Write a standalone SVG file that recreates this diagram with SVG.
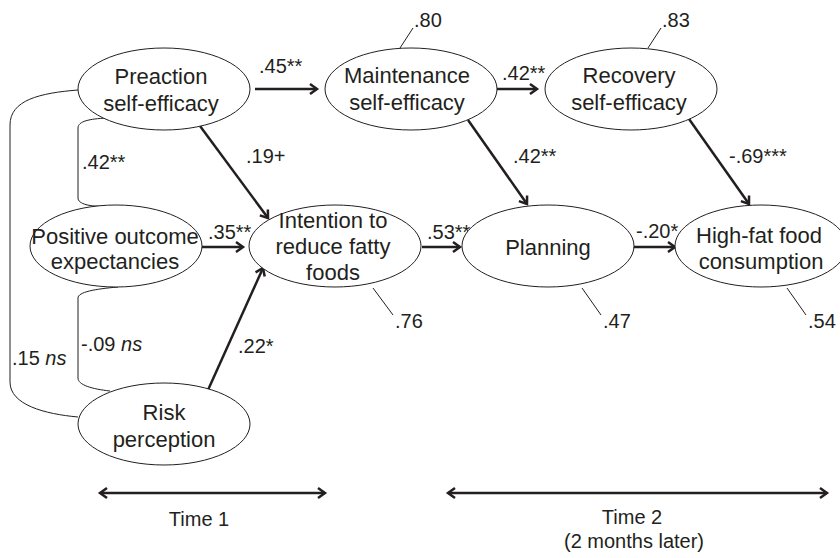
<svg xmlns="http://www.w3.org/2000/svg" width="840" height="558" viewBox="0 0 840 558">
<style>
text{font-family:"Liberation Sans",Arial,Helvetica,sans-serif;fill:#231f20}
.n{font-size:22px;text-anchor:middle}
.l{font-size:20px}
.e{fill:#fff;stroke:#231f20;stroke-width:1}
.a{fill:none;stroke:#231f20;stroke-width:2.5;marker-end:url(#ah)}
.t{fill:none;stroke:#231f20;stroke-width:2.5;marker-end:url(#ah);marker-start:url(#as)}
.c{fill:none;stroke:#231f20;stroke-width:1}
</style>
<defs>
<marker id="ah" markerUnits="userSpaceOnUse" markerWidth="14" markerHeight="14" refX="11" refY="7" orient="auto" viewBox="0 0 14 14">
<path d="M4,2 L11,7 L4,12" fill="none" stroke="#231f20" stroke-width="2.5"/>
</marker>
<marker id="as" markerUnits="userSpaceOnUse" markerWidth="14" markerHeight="14" refX="3" refY="7" orient="auto" viewBox="0 0 14 14">
<path d="M10,2 L3,7 L10,12" fill="none" stroke="#231f20" stroke-width="2.5"/>
</marker>
</defs>
<rect width="840" height="558" fill="#fff"/>

<g id="connectors">
<path class="a" d="M255,89 L317,89"/>
<path class="a" d="M497,89 L537,89"/>
<path class="a" d="M200,126 L268,218"/>
<path class="a" d="M468,120 L527,204"/>
<path class="a" d="M689,119 L749,204"/>
<path class="a" d="M202,247 L243,247"/>
<path class="a" d="M422,247 L460,247"/>
<path class="a" d="M633,247 L675,247"/>
<path class="a" d="M208,390 L263,268"/>
<path class="c" d="M78,90 C40,93 10,100 10,125 L10,382 C10,405 45,414 78,417"/>
<path class="c" d="M106,118 C90,119 78,121 78,128 L78,198 C78,204 90,207 106,206"/>
<path class="c" d="M118,287 C95,289 78,292 78,298 L78,378 C78,385 92,389 110,391"/>
<path class="c" d="M400,48 L413,28"/>
<path class="c" d="M648,48 L661,28"/>
<path class="c" d="M373,288 L393,315"/>
<path class="c" d="M582,288 L601,315"/>
<path class="c" d="M787,288 L806,315"/>
<path class="t" d="M100,493 L325,493"/>
<path class="t" d="M448,493 L827,493"/>
</g>

<g id="labels">
<text class="l" x="259" y="73">.45**</text>
<text class="l" x="502" y="80">.42**</text>
<text class="l" x="246" y="163">.19+</text>
<text class="l" x="513" y="163">.42**</text>
<text class="l" x="729" y="163">-.69***</text>
<text class="l" x="208" y="239">.35**</text>
<text class="l" x="427" y="239">.53**</text>
<text class="l" x="636" y="238">-.20*</text>
<text class="l" x="238" y="353">.22*</text>
<text class="l" x="82" y="169">.42**</text>
<text class="l" x="81" y="351">-.09 <tspan font-style="italic">ns</tspan></text>
<text class="l" x="12" y="365">.15 <tspan font-style="italic">ns</tspan></text>
<text class="l" x="414" y="27">.80</text>
<text class="l" x="662" y="27">.83</text>
<text class="l" x="395" y="328">.76</text>
<text class="l" x="603" y="328">.47</text>
<text class="l" x="808" y="328">.54</text>
<text class="l" x="199" y="526" text-anchor="middle">Time 1</text>
<text class="l" x="632" y="524" text-anchor="middle">Time 2</text>
<text class="l" x="634" y="548" text-anchor="middle">(2 months later)</text>
</g>

<g id="preaction">
<ellipse class="e" cx="164" cy="89" rx="86" ry="41"/>
<text class="n" x="161" y="84">Preaction</text>
<text class="n" x="161" y="111">self-efficacy</text>
</g>
<g id="maintenance">
<ellipse class="e" cx="411" cy="89" rx="86" ry="41"/>
<text class="n" x="407" y="83">Maintenance</text>
<text class="n" x="407" y="110">self-efficacy</text>
</g>
<g id="recovery">
<ellipse class="e" cx="631" cy="89" rx="86" ry="41"/>
<text class="n" x="629" y="83">Recovery</text>
<text class="n" x="629" y="110">self-efficacy</text>
</g>
<g id="positive">
<ellipse class="e" cx="116" cy="246" rx="86" ry="41"/>
<text class="n" x="115" y="244">Positive outcome</text>
<text class="n" x="115" y="269">expectancies</text>
</g>
<g id="intention">
<ellipse class="e" cx="335" cy="246" rx="86" ry="41"/>
<text class="n" x="333" y="228">Intention to</text>
<text class="n" x="333" y="254">reduce fatty</text>
<text class="n" x="333" y="280">foods</text>
</g>
<g id="planning">
<ellipse class="e" cx="548" cy="246" rx="86" ry="41"/>
<text class="n" x="548" y="255">Planning</text>
</g>
<g id="highfat">
<ellipse class="e" cx="761" cy="246" rx="86" ry="41"/>
<text class="n" x="759" y="243">High-fat food</text>
<text class="n" x="761" y="269">consumption</text>
</g>
<g id="risk">
<ellipse class="e" cx="164" cy="424" rx="86" ry="41"/>
<text class="n" x="164" y="420">Risk</text>
<text class="n" x="164" y="447">perception</text>
</g>
</svg>
